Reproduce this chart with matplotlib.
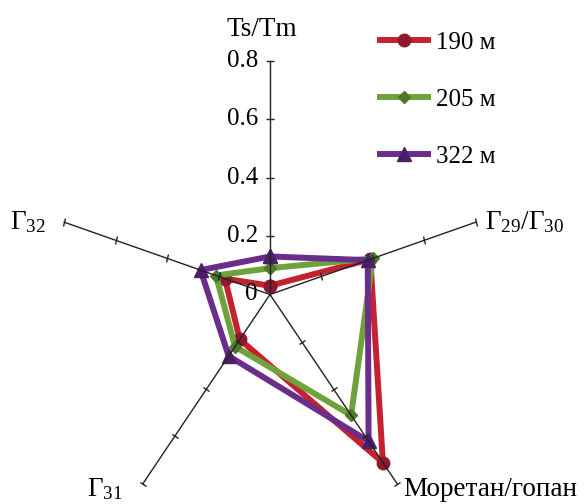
import numpy as np
import matplotlib
matplotlib.use('Agg')
import matplotlib.pyplot as plt
from matplotlib.markers import MarkerStyle
from matplotlib.transforms import Affine2D

plt.rcParams['font.family'] = ['Liberation Serif', 'DejaVu Serif']
plt.rcParams['mathtext.fontset'] = 'custom'
plt.rcParams['mathtext.rm'] = 'Liberation Serif'
plt.rcParams['mathtext.it'] = 'Liberation Serif:italic'

# radar spokes, clockwise from the top
axis_labels = ['Ts/Tm', r'$\mathrm{\Gamma_{29}/\Gamma_{30}}$', 'Моретан/гопан',
               r'$\mathrm{\Gamma_{31}}$', r'$\mathrm{\Gamma_{32}}$']
series_names = ['190 м', '205 м', '322 м']
vals_190 = [0.03, 0.39, 0.71, 0.19, 0.175]
vals_205 = [0.09, 0.40, 0.51, 0.22, 0.21]
vals_322 = [0.13, 0.38, 0.62, 0.26, 0.27]
r_ticks = [0.0, 0.2, 0.4, 0.6, 0.8]
r_tick_labels = ['0', '0.2', '0.4', '0.6', '0.8']

# %%
fs = 18
fs_title = 19.5
W, H = 586, 504
cx, cy = 270, 294.5      # centre, pixels from top-left
sx, sy = 270.5, 292.5    # pixels per unit (the original is squashed sideways)

fig = plt.figure(figsize=(W / 100, H / 100), dpi=100)
ax = fig.add_axes([0, 0, 1, 1])
ax.set_xlim(-cx / sx, (W - cx) / sx)
ax.set_ylim(-(H - cy) / sy, cy / sy)
ax.axis('off')

n = len(axis_labels)
theta = np.radians(90 - 360 / n * np.arange(n))
rmax = r_ticks[-1]

# spokes with little perpendicular ticks
for t in theta:
    ax.plot([0, rmax * np.cos(t)], [0, rmax * np.sin(t)], color='#222222', lw=1.0, zorder=5)
    phi = np.degrees(np.arctan2(sy * np.sin(t), sx * np.cos(t)))
    tick = MarkerStyle('_', transform=Affine2D().rotate_deg(phi + 90))
    rr = np.array(r_ticks[1:])
    ax.plot(rr * np.cos(t), rr * np.sin(t), ls='none', marker=tick, ms=6,
            mew=1.0, color='#222222', zorder=5)

# series
styles = [('#c4222e', '#8c1a2c', 'o', 9),
          ('#70a23c', '#4d7a2a', 'D', 6),
          ('#6a2d8c', '#4a1f68', '^', 10)]
for name, vals, (lc, mc, mk, ms) in zip(series_names, [vals_190, vals_205, vals_322], styles):
    v = np.array(vals + vals[:1])
    tt = np.append(theta, theta[0])
    ax.plot(v * np.cos(tt), v * np.sin(tt), color=lc, lw=4.3, marker=mk, ms=ms,
            mfc=mc, mec=mc, solid_joinstyle='round', label=name, zorder=3)

# radial tick labels on the top spoke
for r, lab in zip(r_ticks, r_tick_labels):
    ax.annotate(lab, (0, r), xytext=(-12, 0), textcoords='offset pixels',
                ha='right', va='center', fontsize=fs)

# spoke titles (bottom two kept just inside the lower edge)
label_pos = [((-8, 31), 'center', 'center'),
             ((9, 0), 'left', 'center'),
             ((6, 0), 'left', 'bottom'),
             ((-20, 0), 'right', 'bottom'),
             ((-18, 0), 'right', 'center')]
for i, (t, lab, (off, ha, va)) in enumerate(zip(theta, axis_labels, label_pos)):
    xy = (rmax * np.cos(t), rmax * np.sin(t))
    if va == 'bottom':
        xy = (xy[0], ax.get_ylim()[0])
        off = (off[0], 2)
    ax.annotate(lab, xy, xytext=off, textcoords='offset pixels',
                ha=ha, va=va, fontsize=fs_title, annotation_clip=False)

ax.legend(loc='upper left', bbox_to_anchor=(380 / W, 1 - 31.5 / H), frameon=False,
          handlelength=1.9, handletextpad=0.32, labelspacing=1.38,
          borderpad=0, borderaxespad=0, fontsize=fs)

fig.savefig('out.png', dpi=100)
